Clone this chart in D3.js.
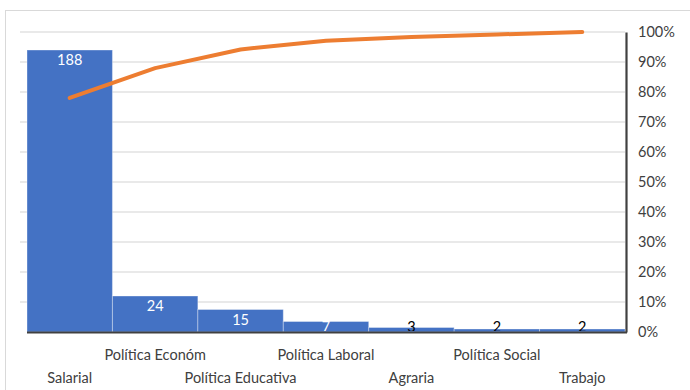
<!DOCTYPE html>
<html><head><meta charset="utf-8">
<script src="https://cdn.jsdelivr.net/npm/d3@7"></script>
<style>body{margin:0;background:#fff}svg{display:block}text{font-family:Lato,"Open Sans",sans-serif}</style>
</head><body><svg id="c" width="690" height="390"></svg>
<script>
const categories = ["Salarial","Política Económ","Política Educativa","Política Laboral","Agraria","Política Social","Trabajo"];
const counts = [188,24,15,7,3,2,2];
const pctTicks = [0,0.1,0.2,0.3,0.4,0.5,0.6,0.7,0.8,0.9,1.0];

const total = d3.sum(counts);
let acc = 0;
const cumulative = counts.map(v => (acc += v) / total);

const svg = d3.select("#c");
svg.append("defs").append("clipPath").attr("id","plotclip")
  .append("rect").attr("x",0).attr("y",0).attr("width",690).attr("height",331);

svg.append("rect").attr("x",5.5).attr("y",10.5).attr("width",700).attr("height",400)
  .attr("fill","none").attr("stroke","#d9d9d9");

const x = d3.scaleBand().domain(categories).range([27,625]).padding(0);
const yL = d3.scaleLinear().domain([0,200]).range([332,32]);
const yR = d3.scaleLinear().domain([0,1]).range([332,32]);

// gridlines
svg.append("g").selectAll("line").data(pctTicks.slice(1)).join("line")
  .attr("x1",20).attr("x2",625).attr("y1",d=>yR(d)).attr("y2",d=>yR(d))
  .attr("stroke","#d4d4d4").attr("stroke-width",1.2);

// bars
svg.append("g").selectAll("rect").data(counts).join("rect")
  .attr("x",(d,i)=>x(categories[i])).attr("width",x.bandwidth())
  .attr("y",d=>yL(d)).attr("height",d=>yL(0)-yL(d))
  .attr("fill","#4472C4").attr("stroke","rgba(255,255,255,0.35)").attr("stroke-width",1);

// data labels
svg.append("g").attr("clip-path","url(#plotclip)").selectAll("text").data(counts).join("text")
  .attr("x",(d,i)=>x(categories[i])+x.bandwidth()/2)
  .attr("y",d=>Math.min(yL(d)+10,327))
  .attr("dy","0.35em").attr("text-anchor","middle")
  .attr("font-size",14.5)
  .attr("fill",d=>d>=5?"#fff":"#000")
  .text(d=>d);

// bottom axis line
svg.append("line").attr("x1",27).attr("x2",627).attr("y1",332.5).attr("y2",332.5)
  .attr("stroke","#404040").attr("stroke-width",2.2);

// right axis
const ra = svg.append("g").attr("transform","translate(626,0)")
  .call(d3.axisRight(yR).tickValues(pctTicks).tickFormat(d3.format(".0%")).tickSize(0).tickPadding(12));
ra.select(".domain").attr("stroke","#404040").attr("stroke-width",2.2);
ra.selectAll("text").attr("font-size",14.5).attr("fill","#404040").attr("font-family","Lato,'Open Sans',sans-serif");

// cumulative line
const line = d3.line().x((d,i)=>x(categories[i])+x.bandwidth()/2).y(d=>yR(d));
svg.append("path").datum(cumulative).attr("d",line)
  .attr("fill","none").attr("stroke","#ED7D31").attr("stroke-width",4).attr("stroke-linecap","round").attr("stroke-linejoin","round");

// category labels (staggered)
svg.append("g").selectAll("text").data(categories).join("text")
  .attr("x",d=>x(d)+x.bandwidth()/2)
  .attr("y",(d,i)=>i%2===0?378:355)
  .attr("dy","0.35em").attr("text-anchor","middle")
  .attr("font-size",14.5).attr("fill","#404040")
  .text(d=>d);
</script></body></html>
